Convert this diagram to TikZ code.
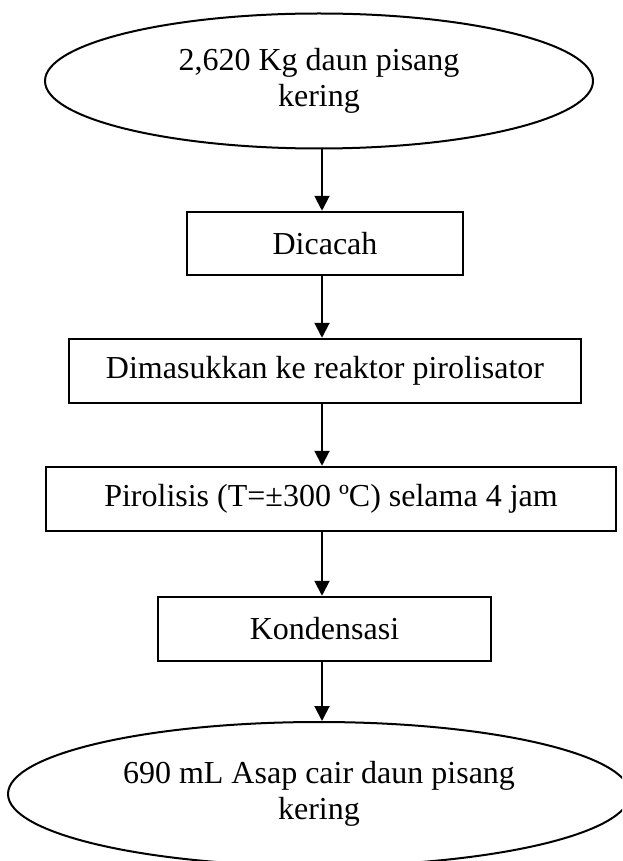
\documentclass[tikz,border=0pt]{standalone}
\usepackage{fontspec}
\setmainfont{Liberation Serif}
\usetikzlibrary{shapes.geometric,arrows.meta}
\begin{document}
\begin{tikzpicture}[x=1pt,y=-1pt,
  every node/.style={font=\fontsize{32}{36}\selectfont, text=black},
  procbox/.style={draw, line width=2.5pt, rectangle, inner sep=0pt, align=center},
  oval/.style={draw, line width=2pt, ellipse, inner sep=0pt, align=center},
  arr/.style={line width=2pt, -{Triangle[width=15pt,length=15pt]}}]
\useasboundingbox (0,0) rectangle (622,861);
\clip (0,0) rectangle (622,861);
\fill[white] (0,0) rectangle (622,861);
\coordinate (ax) at (322,0);
\node[oval, minimum width=548pt, minimum height=135pt] (e1) at (319,81) {2,620 Kg daun pisang\\kering};
\node[procbox, minimum width=276pt, minimum height=63pt] (b1) at (325,243.5) {Dicacah};
\node[procbox, minimum width=512pt, minimum height=64pt] (b2) at (325,371) {Dimasukkan ke reaktor pirolisator};
\node[procbox, minimum width=570pt, minimum height=64pt] (b3) at (331,499) {Pirolisis (T=±300 ºC) selama 4 jam};
\node[procbox, minimum width=333pt, minimum height=64pt] (b4) at (324.5,629) {Kondensasi};
\node[oval, minimum width=622pt, minimum height=144pt] (e2) at (319,794) {690 mL Asap cair daun pisang\\kering};
\draw[arr] (e1.south -| ax) -- (b1.north -| ax);
\draw[arr] (b1.south -| ax) -- (b2.north -| ax);
\draw[arr] (b2.south -| ax) -- (b3.north -| ax);
\draw[arr] (b3.south -| ax) -- (b4.north -| ax);
\draw[arr] (b4.south -| ax) -- (e2.north -| ax);
\end{tikzpicture}
\end{document}
